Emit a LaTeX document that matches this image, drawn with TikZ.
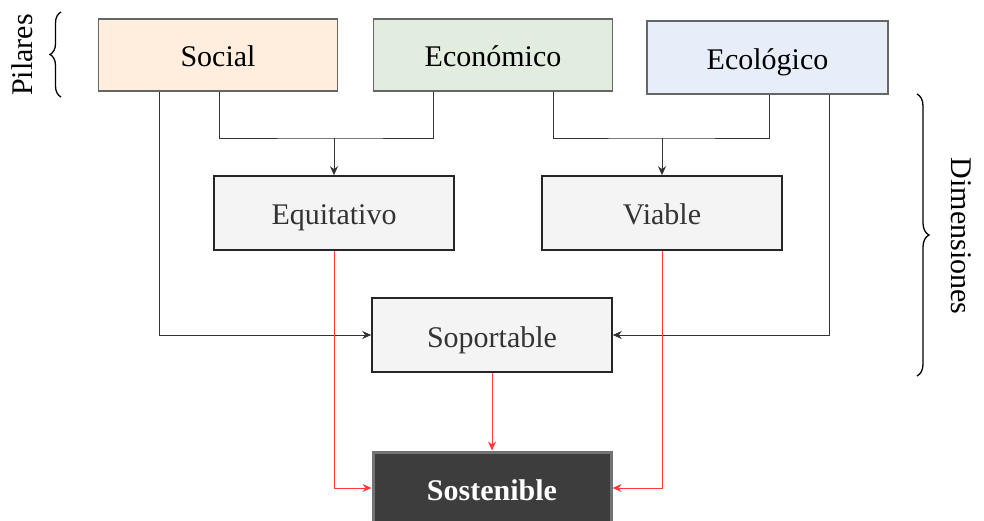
\documentclass[tikz,border=0pt]{standalone}
\usepackage{fontspec}
\setmainfont{Liberation Serif}
\usetikzlibrary{arrows.meta,decorations.pathreplacing}
\definecolor{socialfill}{HTML}{FFEEDD}
\definecolor{econfill}{HTML}{E2EDE0}
\definecolor{ecofill}{HTML}{E7EEF9}
\definecolor{dimfill}{HTML}{F4F4F4}
\definecolor{sosfill}{HTML}{3D3D3D}
\definecolor{redline}{HTML}{FF3B3B}
\begin{document}
\begin{tikzpicture}[x=1pt,y=-1pt,
  txt/.style={font=\fontsize{30}{35}\selectfont},
  boxtxt/.style={txt,text height=24pt,text depth=0pt},
  pilar/.style={boxtxt,draw=black!60,line width=1.6pt,minimum width=239pt,minimum height=72pt,inner sep=0pt,text=black},
  dimbox/.style={boxtxt,draw=black!85,line width=1.6pt,fill=dimfill,minimum width=240pt,minimum height=74pt,inner sep=0pt,text=black!80},
  finalbox/.style={boxtxt,font=\fontsize{30}{35}\selectfont\bfseries,draw=black!55,line width=3pt,fill=sosfill,minimum width=238pt,minimum height=72pt,inner sep=0pt,text=white},
  link/.style={draw=black!80,line width=0.9pt},
  arr/.style={link,-{Stealth[length=9pt,width=8pt]}},
  redarr/.style={draw=redline,line width=1pt,-{Stealth[length=9pt,width=8pt]}},
  bracestyle/.style={draw=black,line width=1.3pt,decorate}
]
\useasboundingbox (0,0) rectangle (984,521);

% Pillars
\node[pilar,fill=socialfill] (social) at (218,55) {Social};
\node[pilar,fill=econfill] (econ) at (493,55) {Económico};
\node[pilar,fill=ecofill,minimum width=241pt,minimum height=73pt] (eco) at (767.5,57.5) {Ecológico};

% Dimensions
\node[dimbox] (equi) at (334,213) {Equitativo};
\node[dimbox] (viab) at (662,213) {Viable};
\node[dimbox] (sopo) at (492,335) {Soportable};

% Result
\node[finalbox] (sost) at (492,488) {Sostenible};

% Junction points
\coordinate (jl) at (334,138);
\coordinate (jr) at (662,138);

% Social + Económico -> Equitativo
\draw[link] ([xshift=1pt]social.south) |- (jl) -| ([xshift=-60pt]econ.south);
\draw[arr] (jl) -- (equi.north);

% Económico + Ecológico -> Viable
\draw[link] ([xshift=60pt]econ.south) |- (jr) -| ([xshift=1.5pt]eco.south);
\draw[arr] (jr) -- (viab.north);

% Social + Ecológico -> Soportable
\draw[arr] ([xshift=-59pt]social.south) |- (sopo.west);
\draw[arr] ([xshift=61.5pt]eco.south) |- (sopo.east);

% Dimensions -> Sostenible
\draw[redarr] (equi.south) |- (sost.west);
\draw[redarr] (viab.south) |- (sost.east);
\draw[redarr] (sopo.south) -- (sost.north);

% Braces and group labels
\coordinate (pb1) at (61,97);
\coordinate (pb2) at (61,12);
\draw[bracestyle,decoration={brace,amplitude=11pt}] (pb1) -- (pb2);
\node[txt,rotate=90] (pil) at (22,55) {Pilares};

\coordinate (db1) at (917,94);
\coordinate (db2) at (917,376);
\draw[bracestyle,decoration={brace,amplitude=12pt}] (db1) -- (db2);
\node[txt,rotate=-90] (dimlab) at (961,236) {Dimensiones};
\end{tikzpicture}
\end{document}
